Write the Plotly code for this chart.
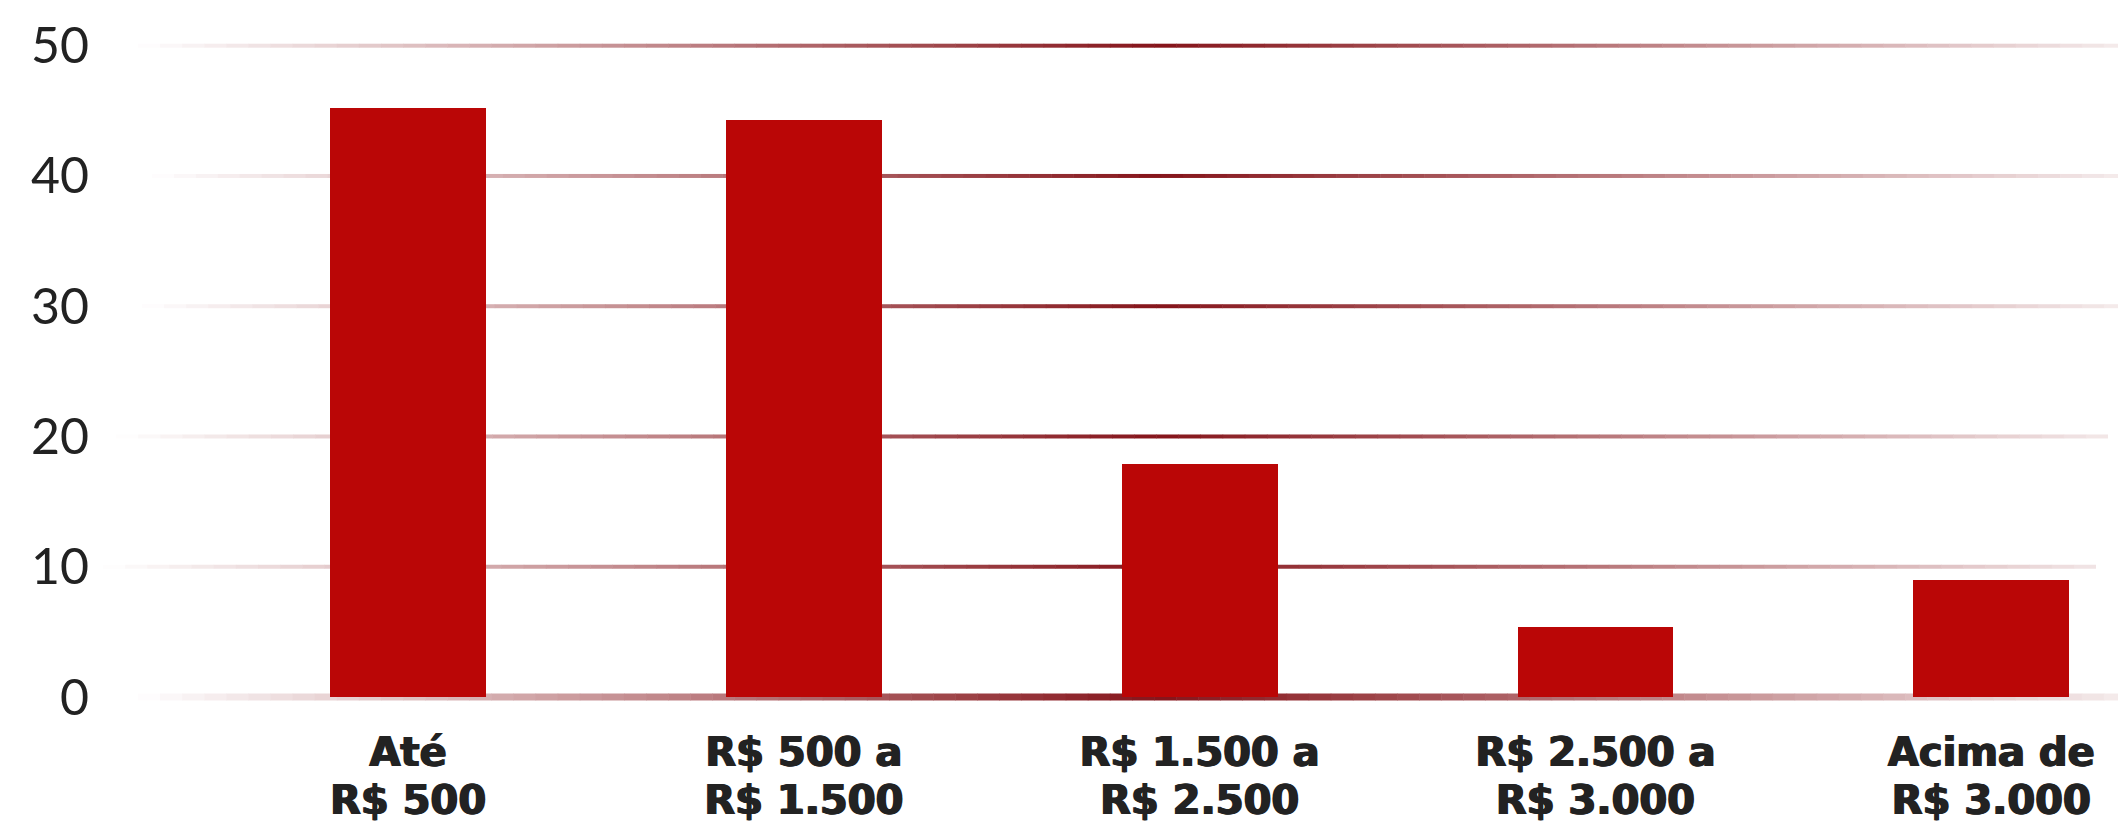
import plotly.graph_objects as go

# ---------------- data ----------------
categories_line1 = ["Até", "R$ 500 a", "R$ 1.500 a", "R$ 2.500 a", "Acima de"]
categories_line2 = ["R$ 500", "R$ 1.500", "R$ 2.500", "R$ 3.000", "R$ 3.000"]
values = [45.2, 44.3, 17.9, 5.4, 9.0]
y_ticks = [0, 10, 20, 30, 40, 50]
y_tick_labels = ["0", "10", "20", "30", "40", "50"]

# ---------------- layout geometry (style) ----------------
PAGE_W, PAGE_H = 2126, 826
OFF = 8                      # default body margin of the html page
W, H = PAGE_W - OFF, PAGE_H - OFF


def fx(px):                  # page px -> figure px
    return px - OFF


L = fx(100)                  # left margin (figure px)
cat_step_px = 395.8          # px between category centres
first_center_px = fx(408.1)
x_pos = list(range(len(values)))
x_min = -(first_center_px - L) / cat_step_px
x_max = x_min + (W - L) / cat_step_px

y0_px, y50_px = fx(697.0), fx(45.7)
ppu = (y0_px - y50_px) / 50.0
bottom_px = fx(706.0)
y_max = y0_px / ppu
y_min = -(bottom_px - y0_px) / ppu
dom0 = (H - bottom_px) / H
line_gap_px = 48

BAR_COLOR = "#BA0606"
TEXT_COLOR = "#222222"
LABEL_FONT = dict(family="DejaVu Sans", size=40, color=TEXT_COLOR, weight=700,
                  shadow="0.9px 0 0 #222222, -0.9px 0 0 #222222")

# gradient gridline styles (per tick value), page px
grid_start_px = [138, 103, 116, 142, 152, 138]
grid_end_px = [2126, 2096, 2108, 2126, 2126, 2126]
grid_width_px = [7, 4, 4, 4, 4, 4]
grad_center_px = 1160.0
grad_right_span = 1050.0
dark_rgb = (133, 20, 26)
N_SEG = 90

fig = go.Figure()

fig.add_trace(go.Bar(
    x=x_pos, y=values, width=0.394,
    marker=dict(color=BAR_COLOR, line=dict(width=0)),
    hoverinfo="y", showlegend=False,
))
# invisible helper trace so that the second (label) axis is drawn
fig.add_trace(go.Scatter(
    x=x_pos, y=values, xaxis="x2", mode="markers",
    marker=dict(opacity=0), hoverinfo="skip", showlegend=False,
))

shapes = []
for v, sx, ex, lw in zip(y_ticks, grid_start_px, grid_end_px, grid_width_px):
    seg = (ex - sx) / N_SEG
    for i in range(N_SEG):
        a = sx + i * seg
        b = min(a + seg + 0.5, ex)
        m = a + seg / 2
        if m <= grad_center_px:
            t = (m - sx) / (grad_center_px - sx)
        else:
            t = max(0.06, 1 - (m - grad_center_px) / grad_right_span)
        t = max(0.0, min(1.0, t))
        rgb = [round(255 - t * (255 - c)) for c in dark_rgb]
        col = "rgb(%d,%d,%d)" % tuple(rgb)
        shapes.append(dict(
            type="line", xref="paper", yref="y",
            x0=(fx(a) - L) / (W - L), x1=(fx(b) - L) / (W - L),
            y0=v, y1=v, layer="below",
            line=dict(color=col, width=lw),
        ))

common_x = dict(
    range=[x_min, x_max], tickmode="array", tickvals=x_pos,
    showgrid=False, zeroline=False, showline=False, ticks="",
    fixedrange=True, automargin=False,
)

fig.update_layout(
    template="none",
    width=W, height=H,
    margin=dict(l=L, r=0, t=0, b=0, pad=0),
    paper_bgcolor="white", plot_bgcolor="white",
    shapes=shapes,
    showlegend=False,
    xaxis=dict(
        **common_x, ticktext=categories_line1,
        tickfont=LABEL_FONT, ticklabelstandoff=19,
    ),
    xaxis2=dict(
        **common_x, ticktext=categories_line2, overlaying="x",
        anchor="free", position=(H - bottom_px - line_gap_px) / H, side="bottom",
        tickfont=LABEL_FONT, ticklabelstandoff=19,
    ),
    yaxis=dict(
        range=[y_min, y_max], domain=[dom0, 1],
        tickmode="array", tickvals=y_ticks, ticktext=y_tick_labels,
        showgrid=False, zeroline=False, showline=False, ticks="",
        tickfont=dict(family="Lato", size=50, color=TEXT_COLOR, weight=400),
        ticklabelstandoff=10, automargin=False,
        fixedrange=True,
    ),
    bargap=0,
)

fig.write_html("out.html")
